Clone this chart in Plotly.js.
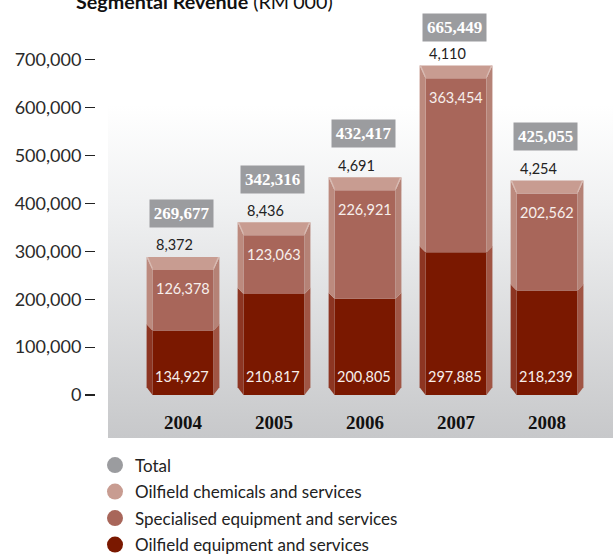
<!DOCTYPE html>
<html><head><meta charset="utf-8">
<script src="https://cdn.plot.ly/plotly-3.0.1.min.js"></script>
<style>
html,body{margin:0;padding:0;background:#fff;overflow:hidden}
#bg{position:absolute;left:108px;top:105px;width:505px;height:333px;background:linear-gradient(#ffffff 0%,#f0f1f2 30%,#c7c8ca 100%)}
#chart{position:absolute;left:0;top:0;width:613px;height:556px}
</style></head><body>
<div id="bg"></div><div id="chart"></div>
<script>
const years = ['2004','2005','2006','2007','2008'];
const totals = [269677,342316,432417,665449,425055];
const chemicals = [8372,8436,4691,4110,4254];
const specialised = [126378,123063,226921,363454,202562];
const equipment = [134927,210817,200805,297885,218239];
const yTicks = [0,100000,200000,300000,400000,500000,600000,700000];

const CAP = 27000, DY = 13000, BY = 16000, OUT = 0.8, INN = 0.67, DX = (OUT-INN)/2;
const BOX_LIFT = [43,43,44,38,44];
const C = {total:'#9b9c9f',chem:'#c89c91',spec:'#a8665a',equip:'#7a1800',
  eL:'#8d3522',eR:'#a05544',sL:'#bc8a7e',sR:'#b58276',txt:'#f7efec',ink:'#222'};
const body = '"Lato",sans-serif', serif = '"Liberation Serif",serif';
const fmt = v => v.toLocaleString('en-US');

const face = (name,vals,base,color,w) => ({type:'bar',name,x:years,y:vals,base,width:w,
  marker:{color,line:{width:0}},showlegend:false,hoverinfo:'skip'});
const tops1 = equipment;
const tops2 = equipment.map((v,i)=>v+specialised[i]);
const capH = chemicals.map(v=>Math.max(v,CAP));
const tops3 = tops2.map((v,i)=>v+capH[i]);

const key = (name,color) => ({type:'scatter',mode:'markers',name,legendgroup:name,x:years,y:years.map(()=>null),
  marker:{color,size:16,symbol:'circle'},hoverinfo:'skip'});

const data = [
  face('Oilfield equipment and services',equipment,0,C.equip,INN),
  face('Specialised equipment and services',specialised,tops1,C.spec,INN),
  key('Total',C.total),
  key('Oilfield chemicals and services',C.chem),
  key('Specialised equipment and services',C.spec),
  key('Oilfield equipment and services',C.equip)
];

const shapes = [];
const poly = (pts,fill) => shapes.push({type:'path',xref:'x',yref:'y',layer:'above',
  path:'M'+pts.map(p=>p[0]+','+p[1]).join('L')+'Z',fillcolor:fill,line:{width:0}});
years.forEach((_,i)=>{
  const ol=i-OUT/2, or=i+OUT/2, il=ol+DX, ir=or-DX;
  const t1=tops1[i], t2=tops2[i], t3=tops3[i];
  poly([[ol,BY],[il,0],[il,t1],[ol,t1+DY]],C.eL);
  poly([[or,BY],[ir,0],[ir,t1],[or,t1+DY]],C.eR);
  poly([[ol,t1+DY],[il,t1],[il,t2],[ol,t3]],C.sL);
  poly([[or,t1+DY],[ir,t1],[ir,t2],[or,t3]],C.sR);
  poly([[ol,t3],[or,t3],[ir,t2],[il,t2]],C.chem);
  poly([[ol,t3],[il,t2],[il,t2+5000],[ol+DX*0.25,t3]],'#d9bdb5');
  poly([[or,t3],[ir,t2],[ir,t2+5000],[or-DX*0.25,t3]],'#d9bdb5');
});

const note = (x,y,text,yshift,xshift,font,extra) => Object.assign({xref:'x',yref:'y',x,y,text,
  showarrow:false,yshift,xshift,font,yanchor:'middle',xanchor:'center'},extra||{});
const annotations = [];
years.forEach((_,i)=>{
  annotations.push(note(i,0,fmt(equipment[i]),19,-1,{family:body,size:14.5,color:C.txt}));
  annotations.push(note(i,tops2[i],fmt(specialised[i]),-19,0,{family:body,size:14.5,color:C.txt}));
  annotations.push(note(i,tops3[i],fmt(chemicals[i]),12,-9,{family:body,size:14.5,color:C.ink}));
  annotations.push(note(i,tops3[i],fmt(totals[i]),BOX_LIFT[i],-2,{family:serif,size:17,color:'#fff'},
    {bgcolor:C.total,width:61,height:25,text:'<b>'+fmt(totals[i])+'</b>'}));
});

const layout = {
  width:613,height:556,margin:{l:96,r:0,t:11,b:161,autoexpand:false},
  paper_bgcolor:'rgba(0,0,0,0)',plot_bgcolor:'rgba(0,0,0,0)',
  barmode:'overlay',
  title:{text:'<b>Segmental Revenue</b> (RM\'000)',x:76/613,xanchor:'left',xref:'container',
    y:0.996,yanchor:'middle',yref:'container',font:{family:body,size:19.7,color:'#111'}},
  xaxis:{type:'category',range:[-0.956,4.725],showgrid:false,zeroline:false,showline:false,
    ticks:'',ticklabelstandoff:14,tickfont:{family:serif,size:19,color:'#111',weight:700},fixedrange:true},
  yaxis:{range:[0,802000],tickvals:yTicks,ticktext:yTicks.map(fmt),showgrid:false,zeroline:false,showline:false,
    ticks:'outside',ticklen:10,tickwidth:1.1,tickcolor:'#222',tickfont:{family:body,size:18,color:'#2a2a2a'},fixedrange:true},
  legend:{x:95/613,xanchor:'left',xref:'container',y:1-447.5/556,yref:'container',yanchor:'top',
    tracegroupgap:1.4,traceorder:'grouped',font:{family:body,size:17,color:'#222'},bgcolor:'rgba(0,0,0,0)'},
  shapes,annotations,showlegend:true
};
Plotly.newPlot('chart',data,layout,{displayModeBar:false,staticPlot:true});
</script></body></html>
